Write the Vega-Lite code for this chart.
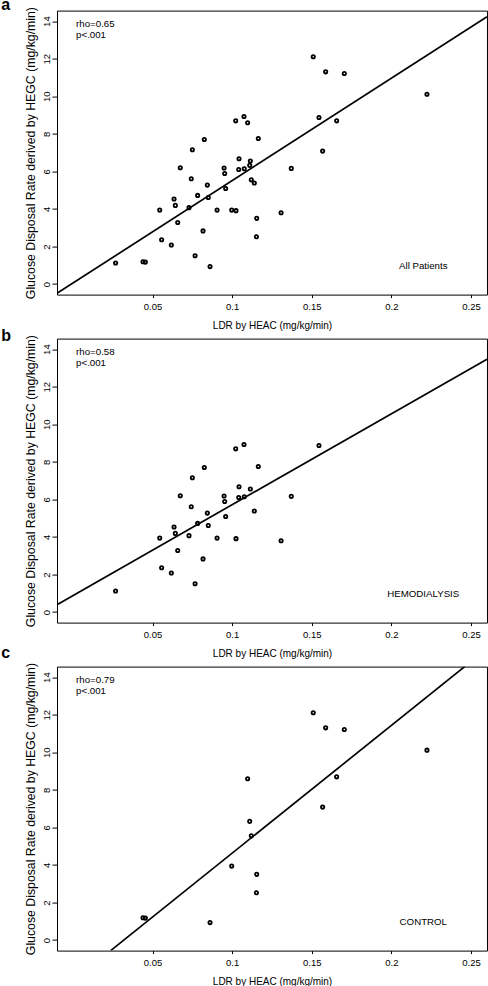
{
  "$schema": "https://vega.github.io/schema/vega-lite/v6.json",
  "autosize": {"type": "pad"},
  "padding": {"left": 0, "top": -3.4, "right": 0, "bottom": 0},
  "background": "white",
  "config": {
    "font": "Liberation Sans",
    "view": {"stroke": "black", "strokeWidth": 1},
    "axis": {"grid": false, "domain": false, "tickColor": "black", "labelColor": "black", "titleColor": "black", "labelFontSize": 9.5, "titleFontWeight": "normal", "labelFont": "Liberation Sans", "titleFont": "Liberation Sans", "labelFlush": false, "labelOverlap": false},
    "axisX": {"tickSize": 3, "labelPadding": 4, "titleFontSize": 10, "titlePadding": 9.5},
    "axisY": {"tickSize": 5, "labelAngle": 270, "labelAlign": "center", "labelBaseline": "bottom", "labelPadding": 1, "titleFontSize": 12.3, "titlePadding": 4},
    "text": {"font": "Liberation Sans", "color": "black"}
  },
  "datasets": {
    "pts": [
      {"group": "HD", "ldr": 0.1022, "gdr": 8.69}, {"group": "HD", "ldr": 0.1074, "gdr": 8.92}, {"group": "HD", "ldr": 0.1545, "gdr": 8.87},
      {"group": "HD", "ldr": 0.0825, "gdr": 7.70}, {"group": "HD", "ldr": 0.1164, "gdr": 7.75}, {"group": "HD", "ldr": 0.0750, "gdr": 7.15},
      {"group": "HD", "ldr": 0.1043, "gdr": 6.67}, {"group": "HD", "ldr": 0.1114, "gdr": 6.55}, {"group": "HD", "ldr": 0.0674, "gdr": 6.19},
      {"group": "HD", "ldr": 0.0949, "gdr": 6.18}, {"group": "HD", "ldr": 0.0953, "gdr": 5.89}, {"group": "HD", "ldr": 0.1041, "gdr": 6.10},
      {"group": "HD", "ldr": 0.1076, "gdr": 6.14}, {"group": "HD", "ldr": 0.1371, "gdr": 6.16}, {"group": "HD", "ldr": 0.0743, "gdr": 5.61},
      {"group": "HD", "ldr": 0.1139, "gdr": 5.38}, {"group": "HD", "ldr": 0.0844, "gdr": 5.27}, {"group": "HD", "ldr": 0.0959, "gdr": 5.09},
      {"group": "HD", "ldr": 0.0783, "gdr": 4.72}, {"group": "HD", "ldr": 0.0850, "gdr": 4.61}, {"group": "HD", "ldr": 0.0635, "gdr": 4.53},
      {"group": "HD", "ldr": 0.0643, "gdr": 4.19}, {"group": "HD", "ldr": 0.0729, "gdr": 4.07}, {"group": "HD", "ldr": 0.0545, "gdr": 3.94},
      {"group": "HD", "ldr": 0.0905, "gdr": 3.94}, {"group": "HD", "ldr": 0.1024, "gdr": 3.91}, {"group": "HD", "ldr": 0.1307, "gdr": 3.80},
      {"group": "HD", "ldr": 0.0658, "gdr": 3.28}, {"group": "HD", "ldr": 0.0817, "gdr": 2.83}, {"group": "HD", "ldr": 0.0557, "gdr": 2.36},
      {"group": "HD", "ldr": 0.0618, "gdr": 2.08}, {"group": "HD", "ldr": 0.0767, "gdr": 1.51}, {"group": "HD", "ldr": 0.0268, "gdr": 1.12},
      {"group": "CTRL", "ldr": 0.1509, "gdr": 12.10}, {"group": "CTRL", "ldr": 0.1587, "gdr": 11.30}, {"group": "CTRL", "ldr": 0.1704, "gdr": 11.21},
      {"group": "CTRL", "ldr": 0.2223, "gdr": 10.11}, {"group": "CTRL", "ldr": 0.1097, "gdr": 8.59}, {"group": "CTRL", "ldr": 0.1656, "gdr": 8.69},
      {"group": "CTRL", "ldr": 0.1568, "gdr": 7.08}, {"group": "CTRL", "ldr": 0.1110, "gdr": 6.32}, {"group": "CTRL", "ldr": 0.1120, "gdr": 5.55},
      {"group": "CTRL", "ldr": 0.0997, "gdr": 3.94}, {"group": "CTRL", "ldr": 0.1154, "gdr": 3.50}, {"group": "CTRL", "ldr": 0.1152, "gdr": 2.52},
      {"group": "CTRL", "ldr": 0.0440, "gdr": 1.19}, {"group": "CTRL", "ldr": 0.0455, "gdr": 1.17}, {"group": "CTRL", "ldr": 0.0861, "gdr": 0.93}
    ],
    "fits": [
      {"panel": "a", "ldr": -0.01, "gdr": -0.49}, {"panel": "a", "ldr": 0.26, "gdr": 14.23},
      {"panel": "b", "ldr": -0.01, "gdr": 0.395}, {"panel": "b", "ldr": 0.26, "gdr": 13.46},
      {"panel": "c", "ldr": 0.0237, "gdr": -0.56}, {"panel": "c", "ldr": 0.246, "gdr": 14.56}
    ]
  },
  "spacing": 44,
  "bounds": "flush",
  "vconcat": [
    {
      "width": 430, "height": 284,
      "layer": [
        {
          "data": {"name": "pts"},
          "mark": {"type": "point", "shape": "circle", "filled": false, "stroke": "black", "strokeWidth": 1.8, "size": 11, "opacity": 1},
          "encoding": {
            "x": {"field": "ldr", "type": "quantitative", "scale": {"domain": [-0.01, 0.26], "nice": false, "zero": false}, "axis": {"values": [0.05, 0.1, 0.15, 0.2, 0.25], "format": ".2~f", "title": "LDR by HEAC (mg/kg/min)"}},
            "y": {"field": "gdr", "type": "quantitative", "scale": {"domain": [-0.56, 14.56], "nice": false, "zero": false}, "axis": {"values": [0, 2, 4, 6, 8, 10, 12, 14], "title": "Glucose Disposal Rate derived by HEGC (mg/kg/min)"}}
          }
        },
        {
          "data": {"name": "fits"},
          "transform": [{"filter": "datum.panel == 'a'"}],
          "mark": {"type": "line", "color": "black", "strokeWidth": 1.7, "clip": true},
          "encoding": {"x": {"field": "ldr", "type": "quantitative"}, "y": {"field": "gdr", "type": "quantitative"}}
        },
        {
          "data": {"values": [{}]},
          "mark": {"type": "text", "text": "rho=0.65", "fontSize": 9.7, "align": "left", "baseline": "middle"},
          "encoding": {"x": {"datum": 0.002}, "y": {"datum": 13.86}}
        },
        {
          "data": {"values": [{}]},
          "mark": {"type": "text", "text": "p<.001", "fontSize": 9.7, "align": "left", "baseline": "middle"},
          "encoding": {"x": {"datum": 0.002}, "y": {"datum": 13.26}}
        },
        {
          "data": {"values": [{}]},
          "mark": {"type": "text", "text": "All Patients", "fontSize": 9.7, "align": "center", "baseline": "middle"},
          "encoding": {"x": {"datum": 0.22}, "y": {"datum": 0.95}}
        },
        {
          "data": {"values": [{}]},
          "mark": {"type": "text", "text": "a", "fontSize": 16, "fontWeight": "bold", "align": "left", "baseline": "alphabetic"},
          "encoding": {"x": {"datum": -0.045}, "y": {"datum": 14.58}}
        }
      ]
    },
    {
      "width": 430, "height": 284,
      "layer": [
        {
          "data": {"name": "pts"},
          "transform": [{"filter": "datum.group == 'HD'"}],
          "mark": {"type": "point", "shape": "circle", "filled": false, "stroke": "black", "strokeWidth": 1.8, "size": 11, "opacity": 1},
          "encoding": {
            "x": {"field": "ldr", "type": "quantitative", "scale": {"domain": [-0.01, 0.26], "nice": false, "zero": false}, "axis": {"values": [0.05, 0.1, 0.15, 0.2, 0.25], "format": ".2~f", "title": "LDR by HEAC (mg/kg/min)"}},
            "y": {"field": "gdr", "type": "quantitative", "scale": {"domain": [-0.56, 14.56], "nice": false, "zero": false}, "axis": {"values": [0, 2, 4, 6, 8, 10, 12, 14], "title": "Glucose Disposal Rate derived by HEGC (mg/kg/min)"}}
          }
        },
        {
          "data": {"name": "fits"},
          "transform": [{"filter": "datum.panel == 'b'"}],
          "mark": {"type": "line", "color": "black", "strokeWidth": 1.7, "clip": true},
          "encoding": {"x": {"field": "ldr", "type": "quantitative"}, "y": {"field": "gdr", "type": "quantitative"}}
        },
        {
          "data": {"values": [{}]},
          "mark": {"type": "text", "text": "rho=0.58", "fontSize": 9.7, "align": "left", "baseline": "middle"},
          "encoding": {"x": {"datum": 0.002}, "y": {"datum": 13.86}}
        },
        {
          "data": {"values": [{}]},
          "mark": {"type": "text", "text": "p<.001", "fontSize": 9.7, "align": "left", "baseline": "middle"},
          "encoding": {"x": {"datum": 0.002}, "y": {"datum": 13.26}}
        },
        {
          "data": {"values": [{}]},
          "mark": {"type": "text", "text": "HEMODIALYSIS", "fontSize": 9.7, "align": "center", "baseline": "middle"},
          "encoding": {"x": {"datum": 0.22}, "y": {"datum": 0.95}}
        },
        {
          "data": {"values": [{}]},
          "mark": {"type": "text", "text": "b", "fontSize": 16, "fontWeight": "bold", "align": "left", "baseline": "alphabetic"},
          "encoding": {"x": {"datum": -0.045}, "y": {"datum": 14.45}}
        }
      ]
    },
    {
      "width": 430, "height": 284,
      "layer": [
        {
          "data": {"name": "pts"},
          "transform": [{"filter": "datum.group == 'CTRL'"}],
          "mark": {"type": "point", "shape": "circle", "filled": false, "stroke": "black", "strokeWidth": 1.8, "size": 11, "opacity": 1},
          "encoding": {
            "x": {"field": "ldr", "type": "quantitative", "scale": {"domain": [-0.01, 0.26], "nice": false, "zero": false}, "axis": {"values": [0.05, 0.1, 0.15, 0.2, 0.25], "format": ".2~f", "title": "LDR by HEAC (mg/kg/min)"}},
            "y": {"field": "gdr", "type": "quantitative", "scale": {"domain": [-0.56, 14.56], "nice": false, "zero": false}, "axis": {"values": [0, 2, 4, 6, 8, 10, 12, 14], "title": "Glucose Disposal Rate derived by HEGC (mg/kg/min)"}}
          }
        },
        {
          "data": {"name": "fits"},
          "transform": [{"filter": "datum.panel == 'c'"}],
          "mark": {"type": "line", "color": "black", "strokeWidth": 1.7, "clip": true},
          "encoding": {"x": {"field": "ldr", "type": "quantitative"}, "y": {"field": "gdr", "type": "quantitative"}}
        },
        {
          "data": {"values": [{}]},
          "mark": {"type": "text", "text": "rho=0.79", "fontSize": 9.7, "align": "left", "baseline": "middle"},
          "encoding": {"x": {"datum": 0.002}, "y": {"datum": 13.86}}
        },
        {
          "data": {"values": [{}]},
          "mark": {"type": "text", "text": "p<.001", "fontSize": 9.7, "align": "left", "baseline": "middle"},
          "encoding": {"x": {"datum": 0.002}, "y": {"datum": 13.26}}
        },
        {
          "data": {"values": [{}]},
          "mark": {"type": "text", "text": "CONTROL", "fontSize": 9.7, "align": "center", "baseline": "middle"},
          "encoding": {"x": {"datum": 0.22}, "y": {"datum": 0.95}}
        },
        {
          "data": {"values": [{}]},
          "mark": {"type": "text", "text": "c", "fontSize": 16, "fontWeight": "bold", "align": "left", "baseline": "alphabetic"},
          "encoding": {"x": {"datum": -0.045}, "y": {"datum": 15.04}}
        }
      ]
    }
  ]
}
